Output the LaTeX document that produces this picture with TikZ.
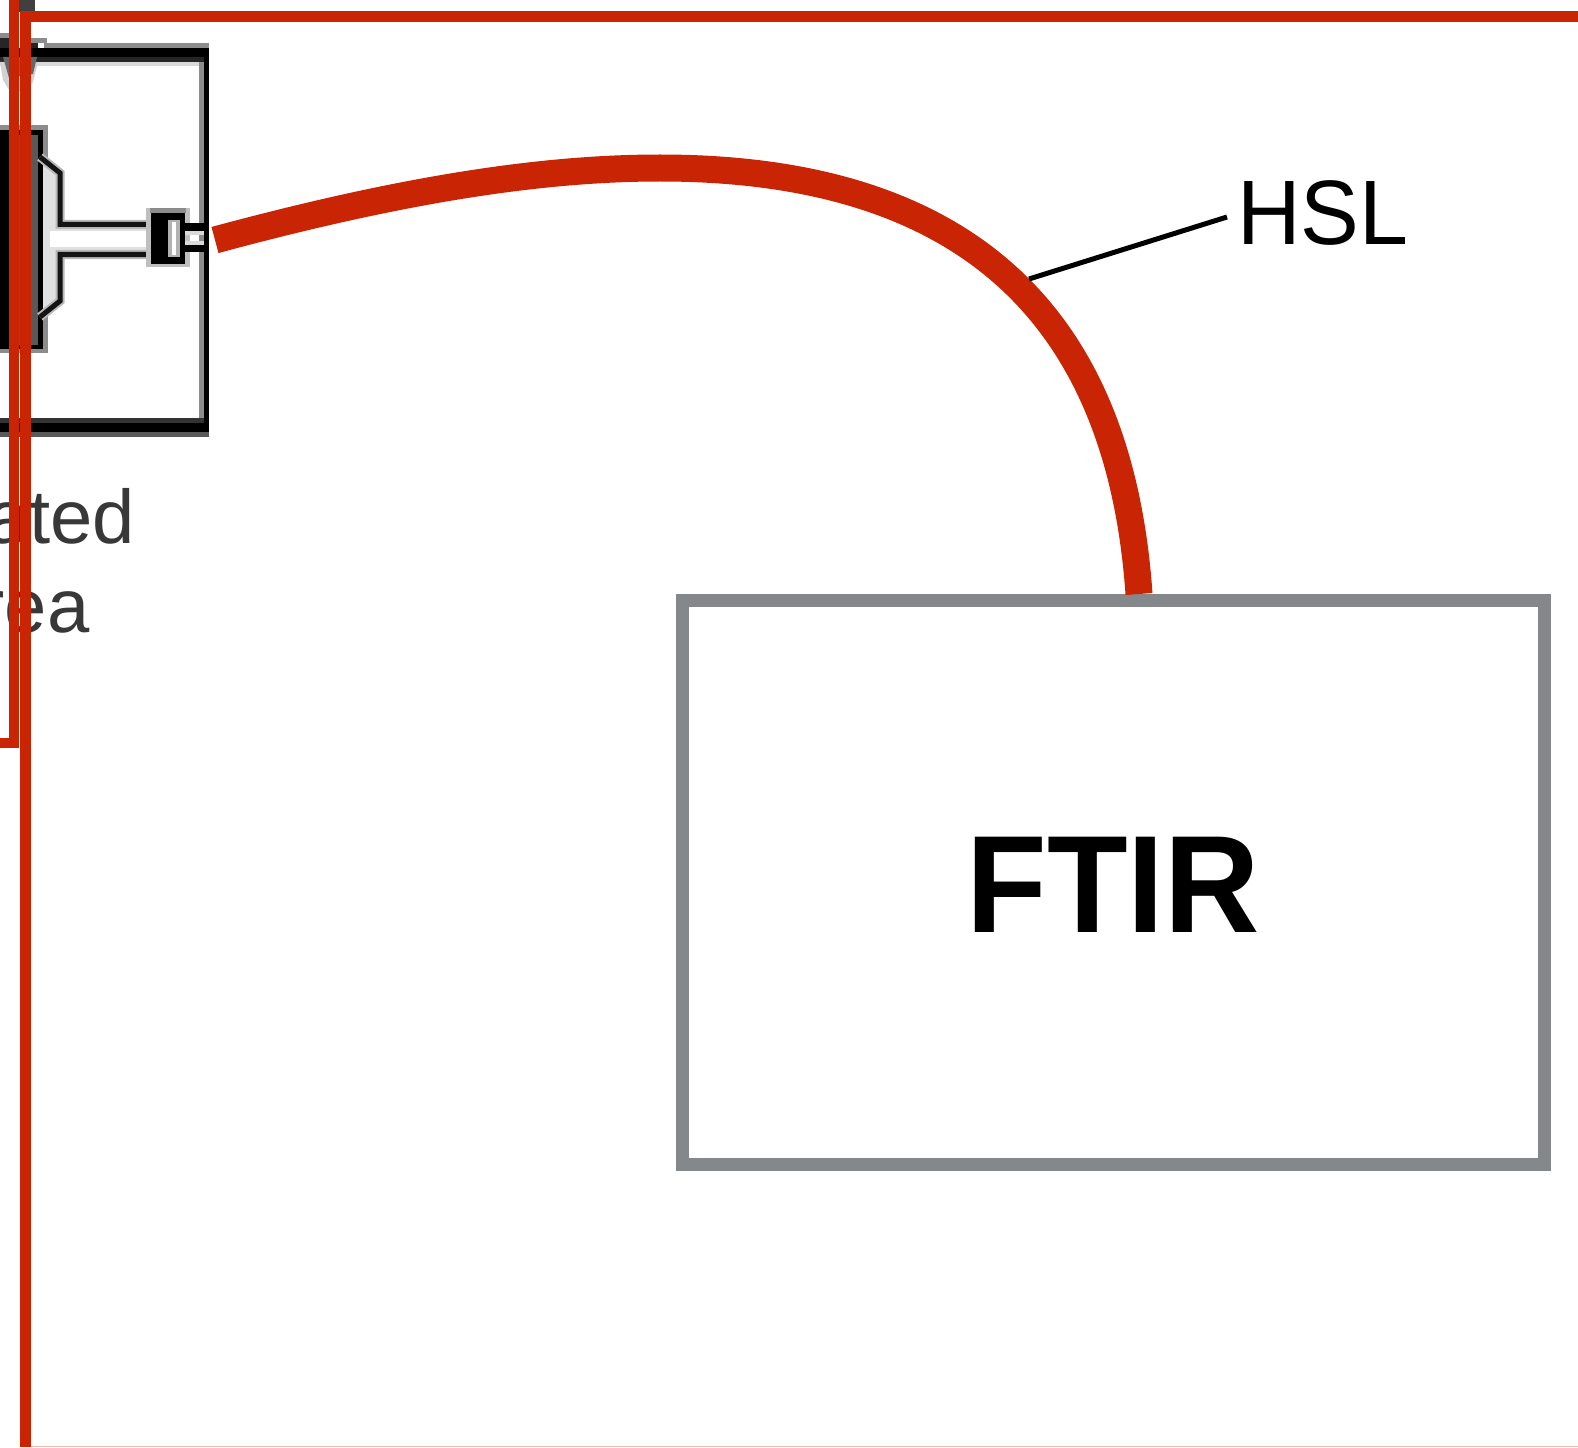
\documentclass[tikz,border=0pt]{standalone}
\usepackage{fontspec}
\setmainfont{Liberation Sans}
\definecolor{hslred}{HTML}{C92505}
\definecolor{boxgray}{HTML}{85888B}
\tikzset{
  redline/.style={fill=hslred,draw=none},
  ink/.style={fill=black,draw=none},
  mid/.style={fill=black!65,draw=none},
  soft/.style={fill=black!45,draw=none},
  pale/.style={fill=black!15,draw=none},
  devline/.style={draw=black!92,line width=5pt,line join=miter},
  devhalo/.style={draw=black!28,line width=9pt,line join=miter},
  lbl/.style={inner sep=0pt,outer sep=0pt},
}
\begin{document}
\begin{tikzpicture}[x=1pt,y=-1pt]
\useasboundingbox (0,0) rectangle (1578,1447);
\fill[white] (0,0) rectangle (1578,1447);
% faded labels of the cropped figure
\node[lbl,anchor=base east,text=black!78] (ated) at (135,543) {\fontsize{76}{76}\selectfont ated};
\node[lbl,anchor=base east,text=black!78] (rea) at (89.5,632) {\fontsize{76}{76}\selectfont rea};
% black frame
\fill[soft] (44,43) rectangle (209,48);
\fill[soft] (199,48) rectangle (204,432);
\fill[pale] (0,62) rectangle (199,66);
\fill[ink] (0,48) rectangle (209,57);
\fill[black!85] (0,57) rectangle (204,62);
\fill[ink] (204,48) rectangle (209,432);
\fill[black!80] (0,418) rectangle (204,423);
\fill[ink] (0,423) rectangle (209,432);
\fill[black!65] (0,432) rectangle (209,437);
% arrow at the top left
\fill[black!75] (19,0) rectangle (35,12);
\fill[black!18] (0,62) -- (38,62) -- (33,82) -- (24,92) -- (9,90) -- (3,80) -- cycle;
\fill[black!60] (3,57) -- (37,57) -- (33,74) -- (9,78) -- cycle;
\fill[soft] (0,33) rectangle (9,38);
\fill[soft] (31,38) rectangle (47,43);
\fill[black!85] (0,38) rectangle (9,48);
\fill[black!85] (31,43) rectangle (38,48);
% device body
\fill[soft] (0,125) rectangle (48,353);
\fill[mid] (0,130) rectangle (38,348);
\fill[ink] (38,130) rectangle (43,348);
\fill[ink] (0,130) rectangle (43,135);
\fill[ink] (0,130) rectangle (9,348);
\fill[ink] (0,345) rectangle (43,349);
% device stem
\fill[black!12] (43,160) -- (60,175) -- (60,222) -- (150,222) -- (150,255) -- (60,255) -- (60,300) -- (43,316) -- cycle;
\fill[white] (50,231) rectangle (147,247);
\draw[devhalo] (40,157) -- (60,173) -- (60,224.5) -- (150,224.5);
\draw[devhalo] (150,254.5) -- (60,254.5) -- (60,301) -- (40,317);
\draw[devline] (40,157) -- (60,173) -- (60,224.5) -- (150,224.5);
\draw[devline] (150,254.5) -- (60,254.5) -- (60,301) -- (40,317);
% plug
\fill[black!25] (146,208) rectangle (190,267);
\fill[soft] (150,208) rectangle (186,213);
\fill[ink] (151,213) rectangle (185,264);
\fill[black!30] (168,220) rectangle (180,257);
\fill[white] (172,222) rectangle (176,255);
\fill[ink] (185,223) rectangle (204,231);
\fill[black!15] (185,231) rectangle (204,235);
\fill[black!15] (185,241) rectangle (204,245);
\fill[ink] (185,245) rectangle (204,252);
% FTIR box
\node[draw=boxgray,line width=13pt,minimum width=862pt,minimum height=564pt,inner sep=0pt,outer sep=0pt,anchor=north west] (ftir) at (682.5,600.5) {};
\node[lbl,anchor=base] (ftirtext) at (1113,932) {\fontsize{132}{132}\selectfont\bfseries\scalebox{1}[1.05]{FTIR}};
% HSL
\node[lbl,anchor=base west] (hsl) at (1237,244) {\fontsize{88}{88}\selectfont\scalebox{1}[1.04]{HSL}};
\coordinate (hslstart) at (215,240);
\coordinate (hslapex) at (660,168);
\coordinate (hslend) at (1139,594);
\coordinate (leaderfoot) at (1029,279);
\coordinate (leaderhead) at (1227,217);
\draw[hslred,line width=27pt] (hslstart) .. controls (400,190) and (540,168) .. (hslapex) .. controls (1000,168) and (1122,350) .. (hslend);
\draw[black,line width=5pt] (leaderfoot) -- (leaderhead);
% red frame
\fill[redline] (9,0) rectangle (19,748);
\fill[redline] (0,738) rectangle (19,748);
\fill[redline] (20,11) rectangle (31,1447);
\fill[redline] (20,11) rectangle (1578,22);
\fill[hslred!30] (31,1446) rectangle (1578,1447);
\end{tikzpicture}
\end{document}
